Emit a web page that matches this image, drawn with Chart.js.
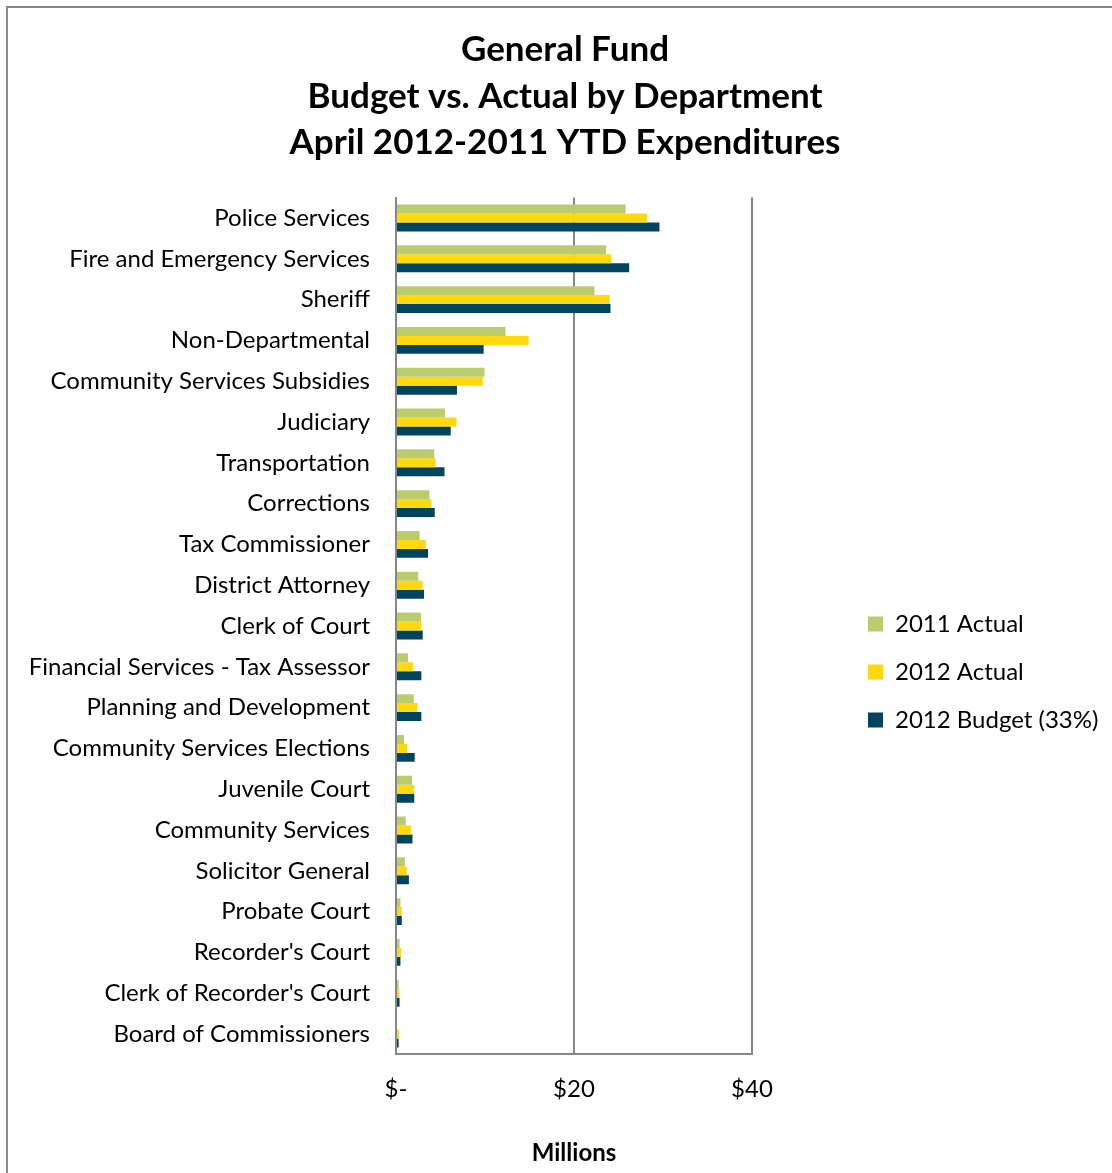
<!DOCTYPE html>
<html lang="en">
  <head>
    <meta charset="UTF-8" />
    <title>General Fund - Budget vs. Actual</title>
    <style>
      html, body { margin: 0; padding: 0; background: #fff; overflow: hidden; }
      .frame {
        position: absolute; left: 6px; top: 6px;
        width: 1200px; height: 1300px;
        border-left: 2px solid #888; border-top: 2px solid #888;
      }
      .wrap { position: absolute; left: 0; top: 0; width: 1112px; height: 1173px; }
    </style>
  </head>
  <body>
    <div class="frame"></div>
    <div class="wrap">
      <canvas id="myChart" width="1112" height="1173"></canvas>
    </div>

    <script src="https://cdn.jsdelivr.net/npm/chart.js"></script>

    <script>
      const departments = [
        "Police Services",
        "Fire and Emergency Services",
        "Sheriff",
        "Non-Departmental",
        "Community Services Subsidies",
        "Judiciary",
        "Transportation",
        "Corrections",
        "Tax Commissioner",
        "District Attorney",
        "Clerk of Court",
        "Financial Services - Tax Assessor",
        "Planning and Development",
        "Community Services Elections",
        "Juvenile Court",
        "Community Services",
        "Solicitor General",
        "Probate Court",
        "Recorder's Court",
        "Clerk of Recorder's Court",
        "Board of Commissioners",
      ];

      // values in millions
      const actual2011 = [25.8, 23.6, 22.3, 12.3, 9.95, 5.5, 4.3, 3.75, 2.65, 2.5, 2.8, 1.35, 2.0, 0.9, 1.8, 1.1, 1.0, 0.5, 0.4, 0.3, 0];
      const actual2012 = [28.2, 24.2, 24.0, 14.9, 9.75, 6.8, 4.45, 3.95, 3.35, 3.0, 2.85, 1.9, 2.4, 1.25, 2.05, 1.7, 1.2, 0.65, 0.55, 0.37, 0.33];
      const budget2012 = [29.6, 26.2, 24.1, 9.85, 6.85, 6.15, 5.45, 4.35, 3.6, 3.15, 3.0, 2.85, 2.85, 2.1, 2.05, 1.85, 1.45, 0.65, 0.5, 0.4, 0.3];

      const xTicks = [0, 20, 40];
      const titleLines = ["General Fund", "Budget vs. Actual by Department", "April 2012-2011 YTD Expenditures"];

      const FONT = "Lato, 'Open Sans', sans-serif";

      // make the legend box wide and place its items further right / lower
      const legendPlace = {
        id: "legendPlace",
        beforeInit(chart) {
          const fit = chart.legend.fit;
          chart.legend.fit = function () {
            fit.call(this);
            this.width = 360;
          };
        },
        afterLayout(chart) {
          const lg = chart.legend;
          const w = lg.right - lg.left;
          const h = lg.bottom - lg.top;
          lg.left = 844;
          lg.right = lg.left + w;
          lg.top = 588;
          lg.bottom = lg.top + h;
        },
      };

      const ctx = document.getElementById("myChart");

      const chart = new Chart(ctx, {
        type: "bar",
        data: {
          labels: departments,
          datasets: [
            {
              label: "2011 Actual",
              data: actual2011,
              backgroundColor: "#bbcc6e",
            },
            {
              label: "2012 Actual",
              data: actual2012,
              backgroundColor: "#ffd80f",
            },
            {
              label: "2012 Budget (33%)",
              data: budget2012,
              backgroundColor: "#00445f",
            },
          ],
        },
        options: {
          indexAxis: "y",
          responsive: false,
          animation: false,
          datasets: {
            bar: { barPercentage: 1, categoryPercentage: 0.66 },
          },
          layout: { padding: { left: 18, right: 0, top: 0, bottom: 0 } },
          scales: {
            x: {
              min: 0,
              max: 40,
              afterBuildTicks: (scale) => {
                scale.ticks = xTicks.map((v) => ({ value: v }));
              },
              ticks: {
                padding: 20,
                color: "#000",
                font: { family: FONT, size: 24 },
                callback: (v) => (v === 0 ? "$-" : "$" + v),
              },
              grid: { color: "#868686", lineWidth: 2, drawTicks: false },
              border: { display: true, color: "#868686", width: 2 },
              title: {
                display: true,
                text: "Millions",
                color: "#000",
                font: { family: FONT, size: 24, weight: "bold" },
                padding: { top: 16, bottom: 5 },
              },
            },
            y: {
              afterFit: (scale) => {
                scale.width = 378;
              },
              ticks: {
                padding: 26,
                color: "#000",
                autoSkip: false,
                font: { family: FONT, size: 24 },
              },
              grid: { display: false, drawTicks: false },
              border: { display: true, color: "#868686", width: 2 },
            },
          },
          plugins: {
            title: {
              display: true,
              text: titleLines,
              color: "#000",
              font: { family: FONT, size: 35, weight: "bold", lineHeight: 1.32 },
              padding: { top: 27, bottom: 32 },
            },
            legend: {
              position: "right",
              align: "start",
              labels: {
                boxWidth: 15,
                boxHeight: 15,
                padding: 24,
                color: "#000",
                font: { family: FONT, size: 24 },
              },
            },
            tooltip: { enabled: false },
          },
        },
        plugins: [legendPlace],
      });
    </script>
  </body>
</html>
